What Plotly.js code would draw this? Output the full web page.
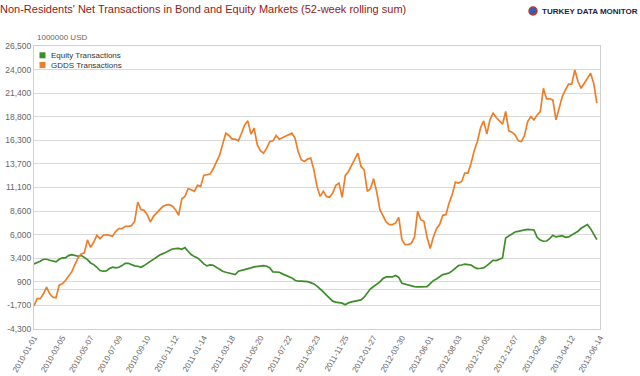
<!DOCTYPE html>
<html><head><meta charset="utf-8">
<script src="https://cdn.plot.ly/plotly-3.0.1.min.js"></script>
<style>html,body{margin:0;padding:0;background:#fff}#chart{width:640px;height:376px}</style>
</head><body><div id="chart"></div>
<script>
// Weekly observations starting 2010-01-01 (52-week rolling sums, million USD)
const startDate = '2010-01-01';
const seriesNames = ['Equity Transactions', 'GDDS Transactions'];
const seriesColors = ['#3c8c28', '#ec7f2c'];

const equity = [
 2780,2890,3070,3290,3290,3180,3070,3000,3290,3430,
 3430,3690,3800,3720,3620,3720,3510,3250,2890,2710,
 2420,2060,1990,2020,2280,2420,2350,2420,2600,2850,
 2850,2710,2570,2530,2420,2600,2850,3070,3360,3540,
 3760,3900,4080,4230,4410,4450,4480,4380,4560,4160,
 3800,3580,3430,3140,2780,2570,2670,2640,2420,2280,
 1990,1880,1810,1660,1620,1990,2060,2130,2240,2350,
 2460,2490,2530,2600,2530,2350,1910,1910,1880,1700,
 1550,1410,1260,1010,900,900,900,860,750,610,
 360,100,-260,-620,-980,-1270,-1380,-1450,-1490,-1670,
 -1450,-1350,-1270,-1130,-1130,-840,-370,70,320,540,
 830,1190,1370,1370,1370,1520,1330,680,570,470,
 390,320,280,320,280,320,650,970,1150,1410,
 1620,1700,1800,2020,2350,2600,2670,2750,2710,2670,
 2420,2280,2310,2350,2600,2850,3180,3140,3250,3430,
 5610,5830,6080,6260,6330,6370,6480,6550,6510,6480,
 5680,5390,5250,5280,5540,5900,5720,5830,5860,5680,
 5720,5930,6110,6330,6660,6840,7060,6620,6040,5430
];

const gdds = [
 -1800,-1000,-1000,-470,250,-470,-840,-900,470,610,
 970,1400,1910,2710,3430,3870,3980,5400,4590,5170,
 5900,5530,5900,5970,5900,5790,6330,6620,6620,6870,
 6870,6950,7420,9520,8690,8610,8140,7350,7960,8320,
 8790,9050,9190,9230,9080,8690,8070,9880,10130,10970,
 10860,10680,11330,11220,12420,12490,12560,13140,13940,14590,
 15820,17010,16760,16360,16360,16180,17010,17920,18350,16910,
 17560,15750,15100,14840,15380,16110,16180,16760,16360,16540,
 16650,16900,17010,16470,15020,14120,13940,14190,14300,13030,
 11220,10130,10680,10130,10030,10500,11330,11580,10030,12420,
 12850,13500,14120,14840,13390,13030,10680,10970,12050,10600,
 8690,8070,7350,7060,7060,7240,7850,5430,4880,4880,
 5030,5680,8500,7600,7420,5680,4450,5680,6620,7060,
 8070,8140,9410,10320,11690,11580,11760,12670,12670,13750,
 15100,16110,17560,18350,16910,18460,19190,18720,18350,17990,
 19370,17270,17120,16830,16180,16110,16760,18280,18820,18460,
 19000,19370,21900,20740,20740,20630,18460,19730,20990,21720,
 22340,22340,23890,22630,21900,22450,22990,23530,22450,20270
];

const xTickLabels = ['2010-01-01','2010-03-05','2010-05-07','2010-07-09','2010-09-10',
 '2010-11-12','2011-01-14','2011-03-18','2011-05-20','2011-07-22','2011-09-23',
 '2011-11-25','2012-01-27','2012-03-30','2012-06-01','2012-08-03','2012-10-05',
 '2012-12-07','2013-02-08','2013-04-12','2013-06-14'];
const yTickLabels = ['-4,300','-1,700','900','3,400','6,000','8,600','11,100',
 '13,700','16,300','18,800','21,400','24,000','26,500'];
const yMin = -4300, yMax = 26500;
const unitLabel = '1000000 USD';
const titleText = "Non-Residents' Net Transactions in Bond and Equity Markets (52-week rolling sum)";
const logoText = 'TURKEY DATA MONITOR';

function weeklyDates(start, n) {
  const p = start.split('-').map(Number);
  const out = [];
  for (let i = 0; i < n; i++) {
    out.push(new Date(Date.UTC(p[0], p[1] - 1, p[2] + 7 * i)).toISOString().slice(0, 10));
  }
  return out;
}

const datesEq = weeklyDates(startDate, equity.length);
const datesG = weeklyDates(startDate, gdds.length);
const yTickVals = yTickLabels.map((_, i) => yMin + i * (yMax - yMin) / (yTickLabels.length - 1));

const traces = [
  {x: datesEq, y: equity, name: seriesNames[0], type: 'scatter', mode: 'lines',
   line: {color: seriesColors[0], width: 1.7}, showlegend: false, hoverinfo: 'x+y'},
  {x: datesG, y: gdds, name: seriesNames[1], type: 'scatter', mode: 'lines',
   line: {color: seriesColors[1], width: 1.7}, showlegend: false, hoverinfo: 'x+y'}
];

// plot area in pixels (for placing header/legend items)
const L = 34, R = 40, T = 46, B = 47, W = 640, H = 376;
const pw = W - L - R, ph = H - T - B;
const px = x => (x - L) / pw;
const py = y => 1 - (y - T) / ph;

const annotations = [
  {text: unitLabel, xref: 'paper', yref: 'paper', x: px(35), y: py(37), xanchor: 'left', yanchor: 'middle',
   showarrow: false, font: {family: 'Liberation Sans, Arial, sans-serif', size: 8, color: '#666'}},
  {text: logoText, xref: 'paper', yref: 'paper', x: px(540), y: py(11), xanchor: 'left', yanchor: 'middle',
   showarrow: false, font: {family: 'Liberation Sans, Arial, sans-serif', size: 8, color: '#1d2540', weight: 'bold'}}
];
const shapes = [
  {type: 'circle', xref: 'paper', yref: 'paper', x0: px(529), x1: px(537), y0: py(15), y1: py(7),
   fillcolor: '#2f5fb0', line: {color: '#c8322a', width: 1.5}}
];
seriesNames.forEach((nm, i) => {
  const yc = 55.3 + i * 9.7;
  annotations.push({text: nm, xref: 'paper', yref: 'paper', x: px(48.5), y: py(yc), xanchor: 'left', yanchor: 'middle',
    showarrow: false, font: {family: 'Liberation Sans, Arial, sans-serif', size: 8, color: '#333'}});
  shapes.push({type: 'rect', xref: 'paper', yref: 'paper', x0: px(39.5), x1: px(45.5), y0: py(yc + 3), y1: py(yc - 3),
    fillcolor: seriesColors[i], line: {width: 0}});
});

const layout = {
  width: W, height: H,
  margin: {l: L, r: R, t: T, b: B, pad: 0},
  paper_bgcolor: '#fff', plot_bgcolor: '#fff',
  font: {family: 'Liberation Sans, Arial, sans-serif', color: '#666'},
  title: {text: titleText, x: 0.0, xanchor: 'left', xref: 'container', y: 1 - 9.5 / H, yanchor: 'middle', yref: 'container',
    font: {family: 'Liberation Sans, Arial, sans-serif', size: 11, color: '#8e1b1b'}},
  showlegend: false,
  xaxis: {type: 'date', range: [xTickLabels[0], xTickLabels[xTickLabels.length - 1]],
    tickmode: 'array', tickvals: xTickLabels, ticktext: xTickLabels, tickangle: -60,
    tickfont: {size: 8, color: '#666'}, showgrid: false, zeroline: false,
    showline: true, linecolor: '#d0d0d0', linewidth: 1, mirror: true, ticks: ''},
  yaxis: {range: [yMin, yMax], tickmode: 'array', tickvals: yTickVals, ticktext: yTickLabels,
    tickfont: {size: 8.5, color: '#666'}, showgrid: true, gridcolor: '#dadada', gridwidth: 1,
    zeroline: true, zerolinecolor: '#dadada', zerolinewidth: 1,
    showline: true, linecolor: '#d0d0d0', linewidth: 1, mirror: true, ticks: ''},
  annotations: annotations,
  shapes: shapes
};

Plotly.newPlot('chart', traces, layout, {displayModeBar: false, staticPlot: true});
</script>
</body></html>
